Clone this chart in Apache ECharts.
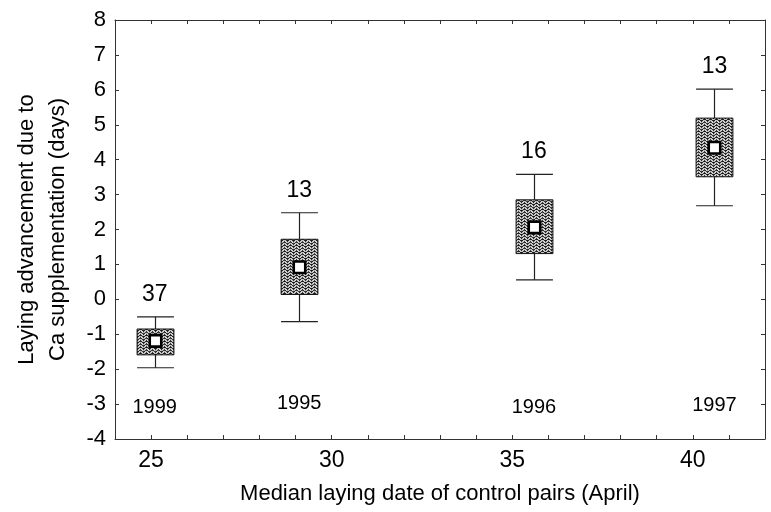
<!DOCTYPE html>
<html>
<head>
<meta charset="utf-8">
<script src="https://cdn.jsdelivr.net/npm/echarts@6/dist/echarts.min.js"></script>
<style>
html,body{margin:0;padding:0;background:#fff;}
#chart{width:771px;height:512px;}
</style>
</head>
<body>
<div id="chart"></div>
<script>
// Data
const xPositions = [25.1, 29.1, 35.6, 40.6];
const years = ['1999', '1995', '1996', '1997'];
const sampleSizes = ['37', '13', '16', '13'];
const whiskerLow = [-1.96, -0.64, 0.56, 2.68];
const boxLow = [-1.59, 0.14, 1.31, 3.51];
const means = [-1.19, 0.92, 2.06, 4.34];
const boxHigh = [-0.85, 1.72, 2.85, 5.19];
const whiskerHigh = [-0.50, 2.48, 3.58, 6.02];
const yearLabelY = [-3.1, -2.98, -3.1, -3.05];

const xMin = 24, xMax = 42, yMin = -4, yMax = 8;

// hatch pattern for boxes
const pat = document.createElement('canvas');
pat.width = 6; pat.height = 6;
const pc = pat.getContext('2d');
pc.fillStyle = '#1a1a1a';
pc.fillRect(0, 0, 6, 6);
pc.strokeStyle = '#ffffff';
pc.lineWidth = 1.1;
pc.beginPath();
pc.moveTo(0, 2.5); pc.lineTo(2.5, 0);
pc.moveTo(3, 3.5); pc.lineTo(6, 6.5);
pc.moveTo(0, 5.5); pc.lineTo(2.5, 3);
pc.moveTo(3, 0.5); pc.lineTo(5.5, 3);
pc.stroke();

const boxData = xPositions.map((x, i) => [x, whiskerLow[i], boxLow[i], means[i], boxHigh[i], whiskerHigh[i]]);

const chart = echarts.init(document.getElementById('chart'), null, {renderer: 'canvas'});
const font = 'Liberation Sans, Arial, sans-serif';
const lineColor = '#333';
const axisLine = {show: true, onZero: false, lineStyle: {color: lineColor, width: 1}};
const axisTick = {show: true, inside: true, length: 4, lineStyle: {color: lineColor}};

chart.setOption({
  animation: false,
  backgroundColor: '#fff',
  grid: {left: 115, right: 6, top: 20, bottom: 73, containLabel: false},
  xAxis: [{
    type: 'value', min: xMin, max: xMax, interval: 1,
    name: 'Median laying date of control pairs (April)',
    nameLocation: 'middle', nameGap: 44,
    nameTextStyle: {fontFamily: font, fontSize: 22, color: '#000'},
    axisLine: axisLine, axisTick: axisTick,
    axisLabel: {fontFamily: font, fontSize: 23, color: '#000', margin: 10,
      formatter: v => (v % 5 === 0 ? String(v) : '')},
    splitLine: {show: false}
  }, {
    type: 'value', position: 'top', min: xMin, max: xMax, interval: 1,
    axisLine: axisLine, axisTick: axisTick,
    axisLabel: {show: false}, splitLine: {show: false}
  }],
  yAxis: [{
    type: 'value', min: yMin, max: yMax, interval: 1,
    name: 'Laying advancement due to\nCa supplementation (days)',
    nameLocation: 'middle', nameGap: 42, nameRotate: 90,
    nameTextStyle: {fontFamily: font, fontSize: 22, color: '#000', lineHeight: 31},
    axisLine: axisLine, axisTick: axisTick,
    axisLabel: {fontFamily: font, fontSize: 22, color: '#000', margin: 9},
    splitLine: {show: false}
  }, {
    type: 'value', position: 'right', min: yMin, max: yMax, interval: 1,
    axisLine: axisLine, axisTick: axisTick,
    axisLabel: {show: false}, splitLine: {show: false}
  }],
  series: [{
    type: 'custom',
    xAxisIndex: 0, yAxisIndex: 0,
    data: boxData,
    renderItem: function (params, api) {
      const x = api.value(0);
      const pWL = api.coord([x, api.value(1)]);
      const pBL = api.coord([x, api.value(2)]);
      const pM = api.coord([x, api.value(3)]);
      const pBH = api.coord([x, api.value(4)]);
      const pWH = api.coord([x, api.value(5)]);
      const w = api.size([1, 0])[0] * 1.02;
      const cx = Math.round(pM[0]) + 0.5;
      const lineStyle = {stroke: '#222', lineWidth: 1.2};
      const m = 11.5;
      return {
        type: 'group',
        children: [
          {type: 'line', shape: {x1: cx, y1: pWH[1], x2: cx, y2: pWL[1]}, style: lineStyle},
          {type: 'line', shape: {x1: cx - w / 2, y1: pWH[1], x2: cx + w / 2, y2: pWH[1]}, style: lineStyle},
          {type: 'line', shape: {x1: cx - w / 2, y1: pWL[1], x2: cx + w / 2, y2: pWL[1]}, style: lineStyle},
          {type: 'rect', shape: {x: cx - w / 2, y: pBH[1], width: w, height: pBL[1] - pBH[1]},
            style: {fill: {image: pat, repeat: 'repeat'}, stroke: '#111', lineWidth: 1}},
          {type: 'rect', shape: {x: cx - m / 2, y: pM[1] - m / 2, width: m, height: m},
            style: {fill: '#fff', stroke: '#000', lineWidth: 2.6}}
        ]
      };
    },
    z: 3
  }, {
    type: 'scatter',
    data: xPositions.map((x, i) => [x, whiskerHigh[i]]),
    symbolSize: 0,
    itemStyle: {opacity: 1},
    label: {show: true, position: 'top', distance: 11,
      formatter: p => sampleSizes[p.dataIndex],
      fontFamily: font, fontSize: 23, color: '#000', textBorderWidth: 0, opacity: 1},
    silent: true, z: 4
  }, {
    type: 'scatter',
    data: xPositions.map((x, i) => [x, yearLabelY[i]]),
    symbolSize: 0,
    itemStyle: {opacity: 1},
    label: {show: true, position: 'inside',
      formatter: p => years[p.dataIndex],
      fontFamily: font, fontSize: 20, color: '#000', textBorderWidth: 0, opacity: 1},
    silent: true, z: 4
  }]
});
</script>
</body>
</html>
